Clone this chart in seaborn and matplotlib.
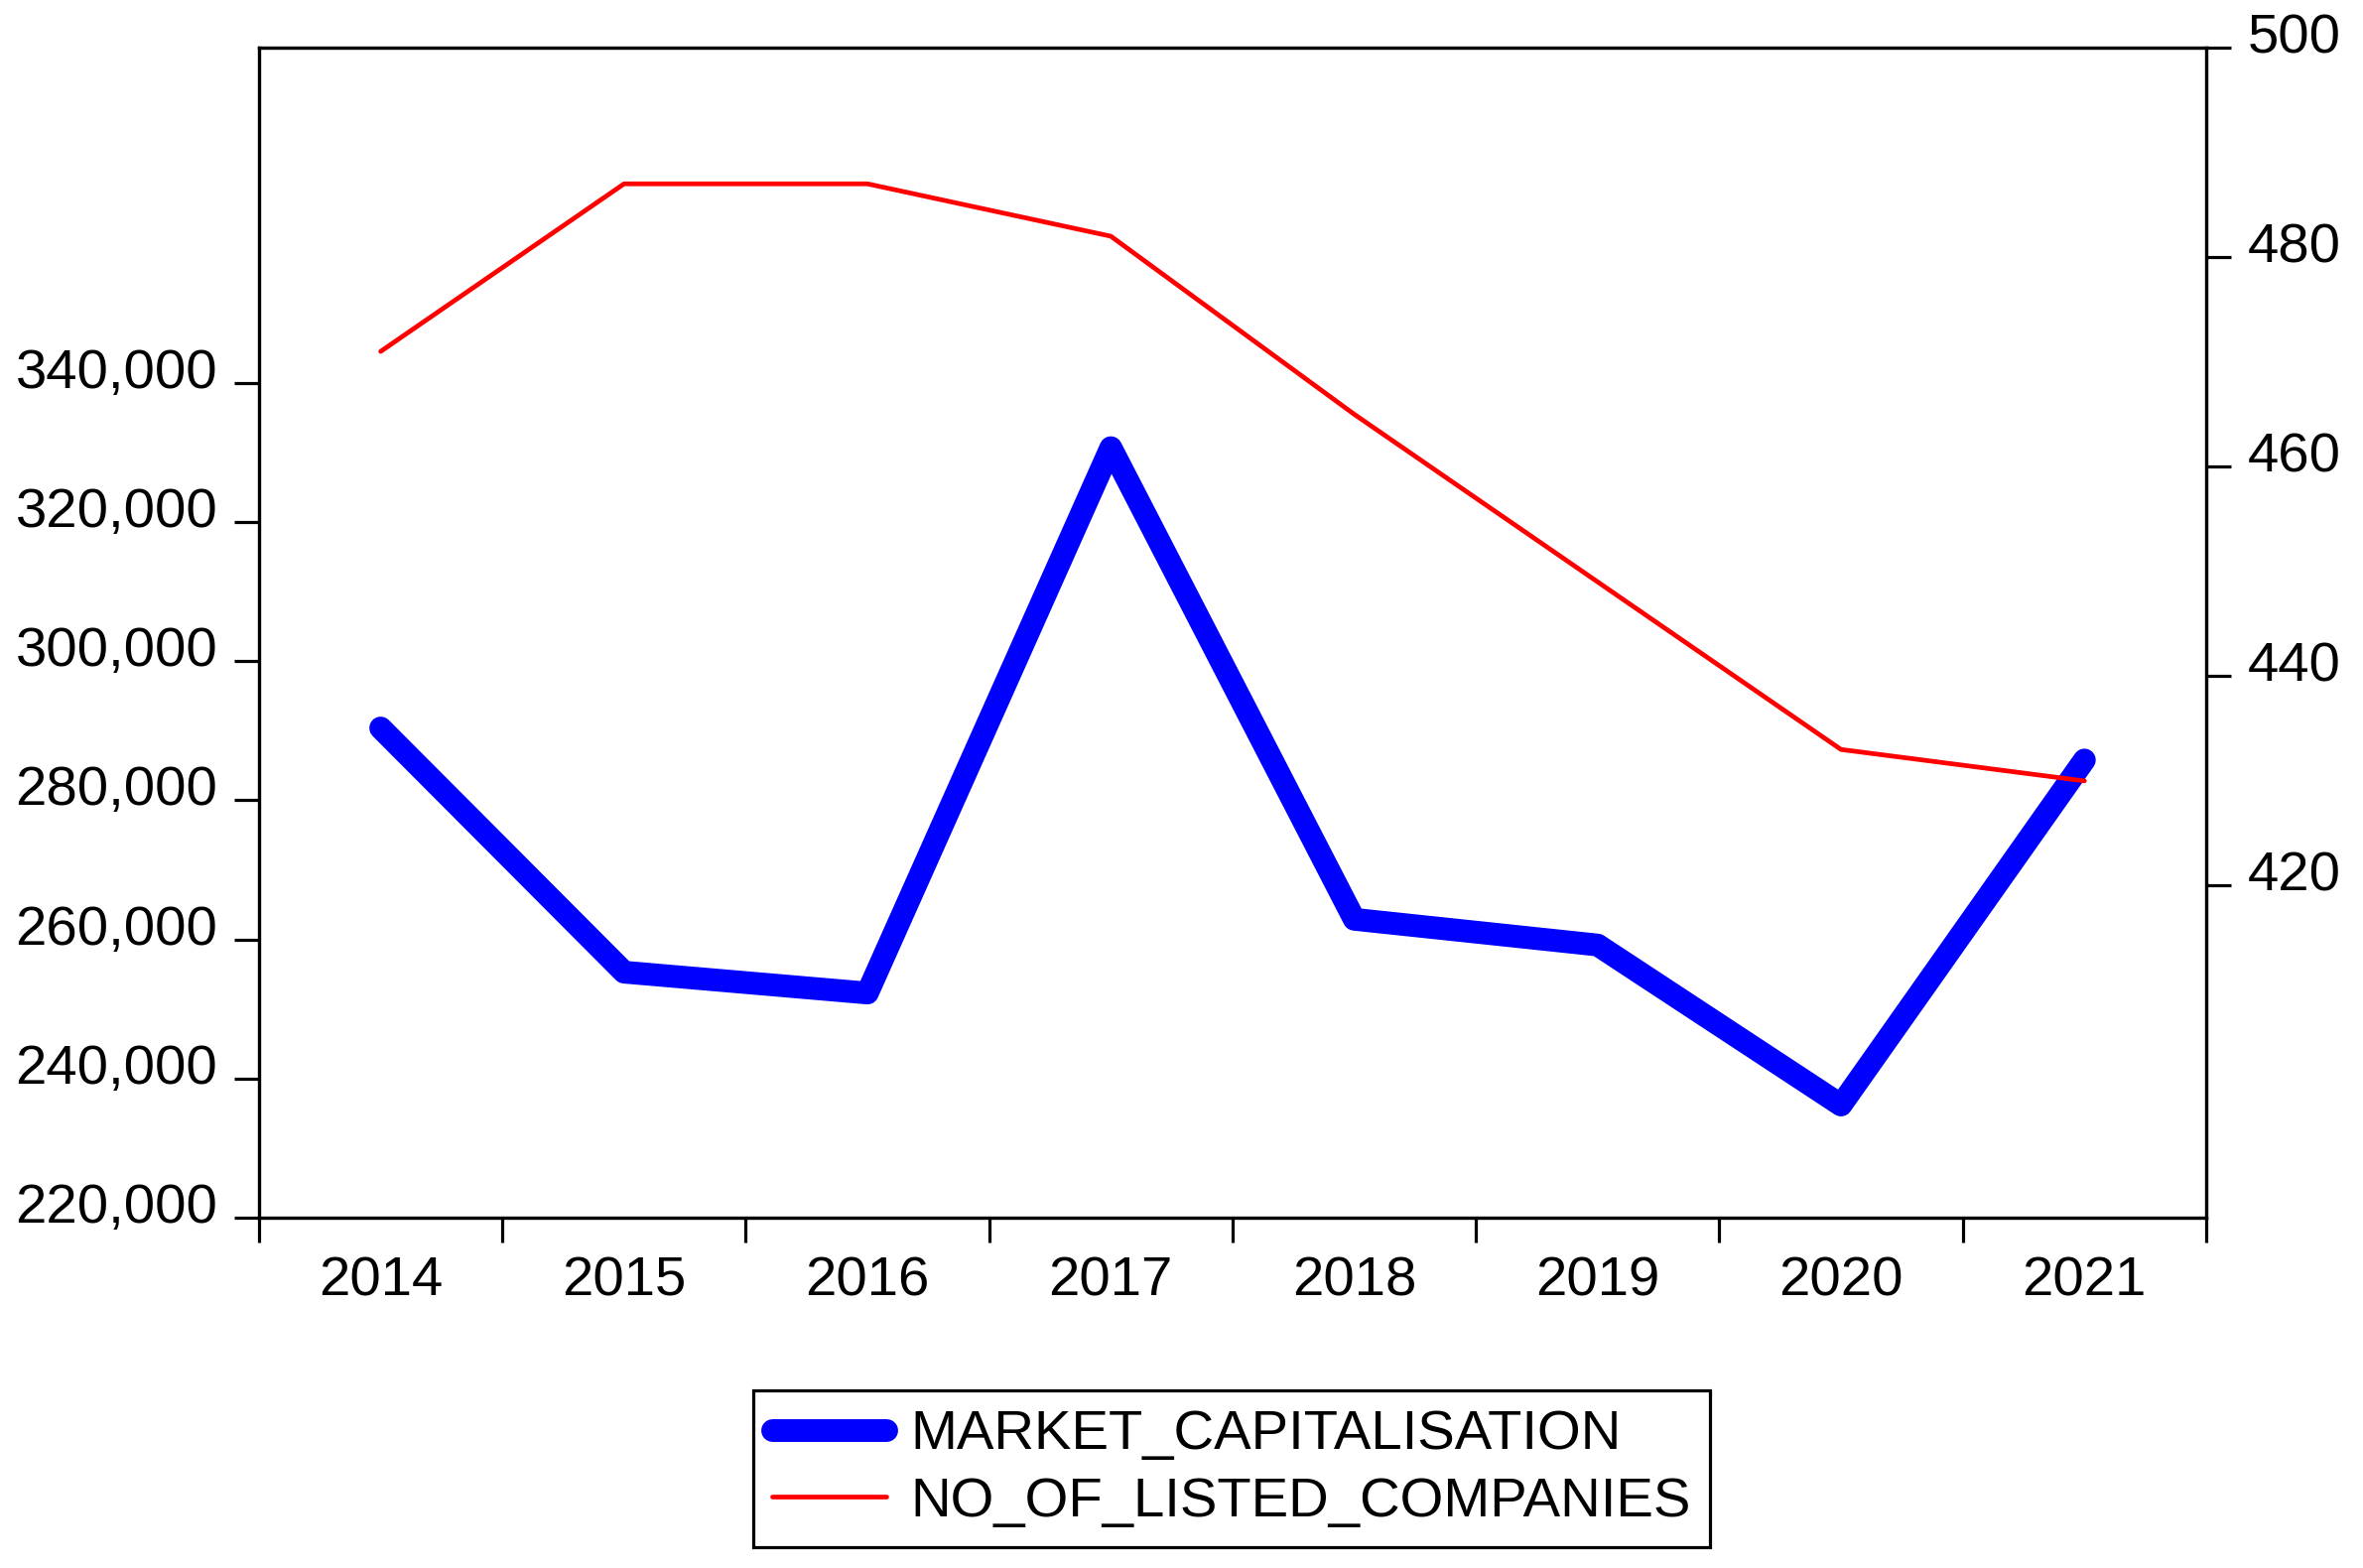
import seaborn as sns
import matplotlib.pyplot as plt
import matplotlib.transforms as mtransforms
import pandas as pd

# Dados
years = [2014, 2015, 2016, 2017, 2018, 2019, 2020, 2021]
market_cap = [290400, 255300, 252300, 330700, 262900, 259200, 236200, 285800]
listed_companies = [471, 487, 487, 482, 465, 449, 433, 430]
left_ticks = [220000, 240000, 260000, 280000, 300000, 320000, 340000]
right_ticks = [420, 440, 460, 480, 500]

df = pd.DataFrame({'year': years, 'MARKET_CAPITALISATION': market_cap,
                   'NO_OF_LISTED_COMPANIES': listed_companies})

sns.set_style('white', {'text.color': 'black', 'xtick.color': 'black',
                        'ytick.color': 'black', 'axes.labelcolor': 'black',
                        'axes.edgecolor': 'black'})
plt.rcParams['font.family'] = ['Liberation Sans', 'DejaVu Sans']
fs = 40.5
lw_axis = 2.3

fig = plt.figure(figsize=(23.81, 15.80), dpi=100)
ax = fig.add_axes([0.1096, 0.2234, 0.9336 - 0.1096, 0.9696 - 0.2234])
ax2 = ax.twinx()

sns.lineplot(data=df, x='year', y='MARKET_CAPITALISATION', ax=ax, color='#0000ff',
             linewidth=16.5, solid_capstyle='round', solid_joinstyle='round',
             label='MARKET_CAPITALISATION', legend=False)
sns.lineplot(data=df, x='year', y='NO_OF_LISTED_COMPANIES', ax=ax2, color='#ff0000',
             linewidth=3.4, label='NO_OF_LISTED_COMPANIES', legend=False)

ax.set_xlim(2013.5, 2021.5)
ax.set_ylim(220000, 388200)
ax2.set_ylim(388.3, 500)

# ticks do eixo x nas fronteiras, rótulos no centro
ax.set_xticks([y - 0.5 for y in years] + [years[-1] + 0.5])
ax.set_xticklabels([])
ax.set_xticks(years, minor=True)
ax.set_xticklabels([str(y) for y in years], minor=True)
ax.tick_params(axis='x', which='major', direction='out', length=18, width=lw_axis, bottom=True)
ax.tick_params(axis='x', which='minor', length=0, labelsize=fs, pad=28, bottom=True)

ax.set_yticks(left_ticks)
ax.set_yticklabels([f'{v:,}' for v in left_ticks])
ax.tick_params(axis='y', direction='out', length=18, width=lw_axis, labelsize=fs, pad=12, left=True)
ax2.set_yticks(right_ticks)
ax2.set_yticklabels([str(v) for v in right_ticks])
ax2.tick_params(axis='y', direction='out', length=18, width=lw_axis, labelsize=fs, pad=12, right=True)

ax.set_xlabel('')
ax.set_ylabel('')
ax2.set_ylabel('')

for a in (ax, ax2):
    for s in a.spines.values():
        s.set_visible(True)
        s.set_linewidth(lw_axis)
        s.set_color('black')

# rótulos do eixo y um pouco acima do tick (estilo EViews)
offset = mtransforms.ScaledTranslation(0, 0.15, fig.dpi_scale_trans)
for lab in ax.get_yticklabels() + ax2.get_yticklabels():
    lab.set_transform(lab.get_transform() + offset)

# Legenda
h1, l1 = ax.get_legend_handles_labels()
h2, l2 = ax2.get_legend_handles_labels()
leg = fig.legend(h1 + h2, l1 + l2, loc='center', bbox_to_anchor=(0.5212, 0.0633),
                 fontsize=fs, frameon=True, fancybox=False, edgecolor='black',
                 borderpad=0.35, labelspacing=0.27, handlelength=2.04, handletextpad=0.43,
                 borderaxespad=0)
leg.get_frame().set_linewidth(lw_axis)
leg.get_frame().set_alpha(1)

fig.savefig('out.png', dpi=100, facecolor='white')
